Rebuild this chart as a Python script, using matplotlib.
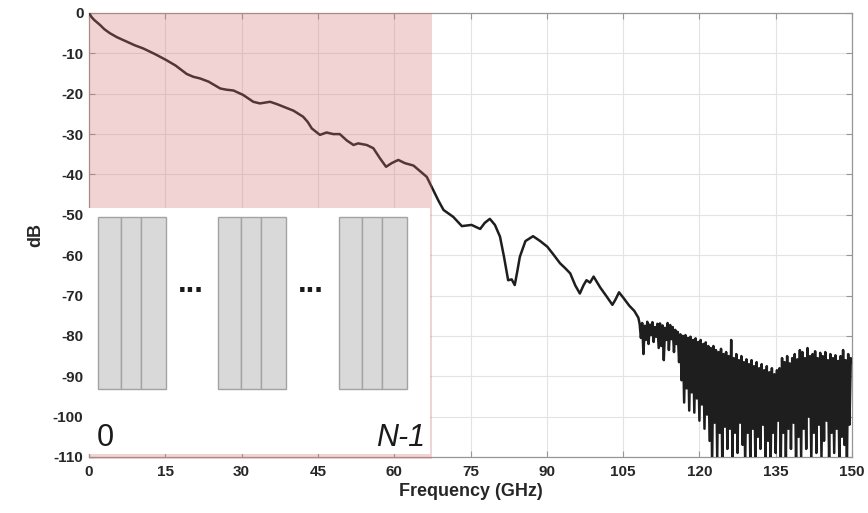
"""Channel response (dB) vs frequency, with the sub-band inset diagram."""

import numpy as np
import matplotlib
matplotlib.use('Agg')
import matplotlib.pyplot as plt
from matplotlib.patches import Rectangle

plt.rcParams['font.family'] = ['Liberation Sans', 'DejaVu Sans']
plt.rcParams['axes.unicode_minus'] = False

# Smooth part of the measured trace (GHz, dB)
freq_smooth = [0.0, 0.5, 1.0, 2.2, 3.0, 4.1, 5.5, 7.4, 9.0, 10.7, 13.0, 15.1,
               17.0, 19.2, 20.5, 21.8, 23.5, 25.8, 27.0, 28.4, 30.3, 32.3,
               33.6, 34.6, 35.6, 37.0, 38.2, 40.2, 42.1, 43.0, 43.8, 45.4,
               46.7, 48.0, 49.3, 50.7, 52.0, 52.9, 54.6, 55.9, 57.2, 58.4,
               59.5, 60.8, 62.1, 63.8, 65.2, 66.4, 67.7, 68.7, 69.7, 71.6,
               73.3, 75.2, 76.9, 77.8, 78.8, 79.8, 80.8, 81.6, 82.4, 83.1,
               83.7, 84.2, 84.7, 85.8, 87.3, 88.7, 90.1, 91.4, 92.6, 93.6,
               94.6, 95.6, 96.5, 97.2, 97.8, 98.5, 99.2, 100.5, 101.8, 102.9,
               103.5, 104.2, 105.2, 106.2, 107.2, 108.0]
db_smooth = [0.0, -1.0, -1.7, -3.0, -4.0, -5.0, -6.0, -7.1, -8.0, -8.8, -10.2, -11.6,
             -13.0, -15.1, -15.8, -16.2, -17.0, -18.7, -19.0, -19.2, -20.3, -22.0,
             -22.4, -22.2, -22.0, -22.6, -23.2, -24.2, -25.7, -27.0, -28.6, -30.2,
             -29.6, -30.0, -30.0, -31.6, -32.7, -32.3, -32.7, -33.5, -36.0, -38.1,
             -37.2, -36.4, -37.2, -37.8, -39.3, -40.6, -43.9, -46.5, -48.8, -50.5,
             -52.8, -52.5, -53.5, -52.0, -51.0, -52.5, -55.4, -60.5, -66.2, -66.0,
             -67.4, -64.0, -60.4, -56.5, -55.3, -56.5, -57.9, -60.0, -62.0, -63.2,
             -64.5, -67.5, -69.5, -67.5, -66.2, -66.8, -65.3, -68.0, -70.3, -72.3,
             -71.0, -69.2, -70.8, -72.5, -73.8, -75.5]

# Noisy tail, sampled every 0.25 GHz from 108.25 GHz to 150 GHz
noise_start = 108.25
noise_step = 0.25
db_noise = [
    -77.0, -80.5, -76.8, -84.5, -77.5, -81.0, -76.5, -82.0,
    -77.2, -79.8, -76.6, -81.5, -77.8, -80.2, -77.0, -83.0,
    -76.9, -82.5, -77.4, -86.0, -78.0, -81.0, -76.8, -83.5,
    -77.3, -80.8, -77.8, -84.0, -78.5, -82.0, -79.0, -86.5,
    -79.6, -91.0, -80.0, -96.5, -79.8, -93.0, -80.5, -98.5,
    -80.2, -94.0, -81.0, -99.0, -80.6, -95.5, -81.5, -101.0,
    -81.0, -97.0, -82.0, -103.0, -81.6, -99.5, -82.5, -106.0,
    -83.0, -112.0, -82.5, -101.5, -83.5, -110.0, -84.0, -104.0,
    -83.2, -112.0, -84.5, -102.5, -84.0, -108.0, -85.0, -103.0,
    -81.0, -111.0, -85.5, -104.0, -84.5, -109.0, -86.0, -101.5,
    -85.0, -107.0, -86.5, -112.0, -85.8, -104.0, -87.0, -110.0,
    -86.0, -103.0, -87.5, -111.0, -86.5, -105.0, -88.0, -108.0,
    -87.0, -102.0, -88.5, -110.0, -87.5, -106.0, -89.0, -112.0,
    -88.0, -104.0, -89.5, -109.0, -88.5, -101.0, -88.0, -111.0,
    -85.5, -104.0, -86.5, -110.0, -85.0, -103.0, -86.8, -108.0,
    -85.5, -101.5, -84.5, -112.0, -85.8, -105.0, -83.5, -110.0,
    -84.0, -103.0, -85.5, -108.0, -83.0, -100.0, -85.0, -111.0,
    -84.5, -104.0, -83.8, -109.0, -85.5, -102.0, -84.2, -110.0,
    -85.0, -106.0, -84.0, -101.0, -86.0, -111.0, -84.5, -104.0,
    -85.5, -109.0, -84.8, -103.0, -86.2, -110.0, -85.0, -105.0,
    -83.5, -107.0, -86.0, -112.0, -84.5, -102.0, -85.5, -86.5,
]

x_ticks = [0, 15, 30, 45, 60, 75, 90, 105, 120, 135, 150]
y_ticks = [0, -10, -20, -30, -40, -50, -60, -70, -80, -90, -100, -110]

# shaded band and the inset diagram
band_end = 67.4
group_starts = [1.8, 25.4, 49.1]
strip_widths = [4.5, 4.0, 4.9]

freq_noise = noise_start + noise_step * np.arange(len(db_noise))
freq = np.concatenate([freq_smooth, freq_noise])
db = np.concatenate([db_smooth, db_noise])

fig = plt.figure(figsize=(8.68, 5.13), dpi=100)
ax = fig.add_axes([89 / 868, 1 - 457 / 513, 763 / 868, 444 / 513])

ax.grid(True, color='#e3e3e3', linewidth=0.8)
ax.set_axisbelow(True)
ax.plot(freq, db, color='#1e1e1e', linewidth=1.8, zorder=3)

ax.set_xlim(0, 150)
ax.set_ylim(-110, 0)
ax.set_xticks(x_ticks)
ax.set_yticks(y_ticks)
ax.tick_params(direction='in', length=4, width=0.8, color='#969696',
               top=True, right=True, labelsize=11, labelcolor='#262626')
ax.tick_params(axis='x', pad=6)
ax.tick_params(axis='y', pad=4)
for lab in ax.get_xticklabels() + ax.get_yticklabels():
    lab.set_fontweight('bold')
for sp in ax.spines.values():
    sp.set_color('#969696')
    sp.set_linewidth(0.9)

ax.set_xlabel('Frequency (GHz)', fontsize=13, fontweight='bold', color='#262626', labelpad=3)
ax.set_ylabel('dB', fontsize=13, fontweight='bold', color='#262626', labelpad=6)

# translucent pink band over the low-frequency part
ax.add_patch(Rectangle((0, -110.4), band_end, 110.4, facecolor='#d77070',
                       alpha=0.3, edgecolor='none', zorder=5, clip_on=False))

# white inset with the sub-band diagram
ax.add_patch(Rectangle((-0.6, -109.3), band_end + 0.2, 60.9, facecolor='white',
                       edgecolor='none', zorder=6, clip_on=False))
for g in group_starts:
    left = g
    for w in strip_widths:
        ax.add_patch(Rectangle((left, -93.2), w, 42.7, facecolor='#d9d9d9',
                               edgecolor='#a3a3a3', linewidth=1.0, zorder=7))
        left += w
ax.text(20.0, -69.2, '...', ha='center', va='baseline', fontsize=22,
        fontweight='bold', color='#1a1a1a', zorder=8)
ax.text(43.6, -69.2, '...', ha='center', va='baseline', fontsize=22,
        fontweight='bold', color='#1a1a1a', zorder=8)
ax.text(1.6, -105.3, '0', ha='left', va='center', fontsize=22,
        color='#1a1a1a', zorder=8)
ax.text(66.0, -105.3, 'N-1', ha='right', va='center', fontsize=22,
        style='italic', color='#1a1a1a', zorder=8)

fig.savefig('out.png', dpi=100)
